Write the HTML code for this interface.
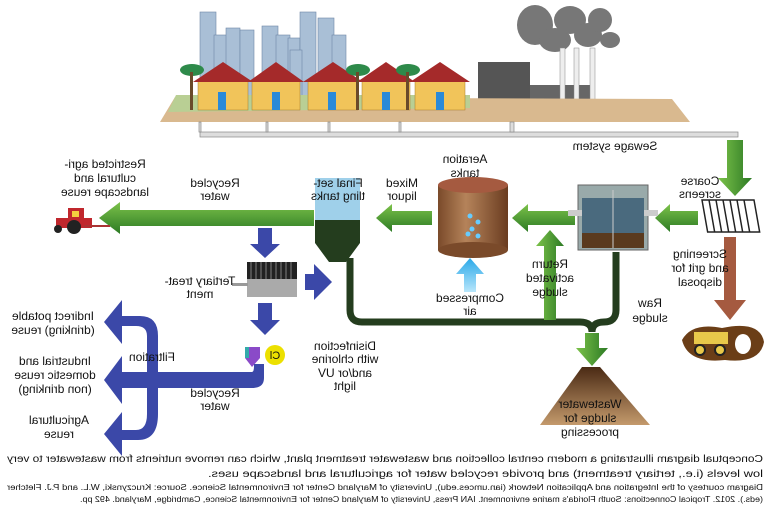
<!DOCTYPE html>
<html><head><meta charset="utf-8"><style>
html,body{margin:0;padding:0;background:#fff;}
svg{display:block;}
text{font-family:"Liberation Sans",sans-serif;fill:#111;}
</style></head><body>
<svg width="768" height="507" viewBox="0 0 768 507" xmlns="http://www.w3.org/2000/svg">
<defs>
<linearGradient id="gg" x1="0" y1="0" x2="0" y2="1"><stop offset="0" stop-color="#7cc24a"/><stop offset="1" stop-color="#2c7a24"/></linearGradient>
<linearGradient id="gv" x1="0" y1="0" x2="1" y2="0"><stop offset="0" stop-color="#7cc24a"/><stop offset="1" stop-color="#2c7a24"/></linearGradient>
<linearGradient id="cyl" x1="0" y1="0" x2="1" y2="0"><stop offset="0" stop-color="#7a4a2a"/><stop offset=".4" stop-color="#b5835a"/><stop offset="1" stop-color="#6a3c20"/></linearGradient>
<linearGradient id="pile" x1="0" y1="0" x2="0" y2="1"><stop offset="0" stop-color="#4a2a14"/><stop offset="1" stop-color="#c49a6c"/></linearGradient>
<linearGradient id="air" x1="0" y1="0" x2="0" y2="1"><stop offset="0" stop-color="#2aa8e8"/><stop offset="1" stop-color="#b8e6fb"/></linearGradient>
</defs>
<!-- smoke -->
<g fill="#777"><ellipse cx="535" cy="25" rx="18" ry="20"/><ellipse cx="555" cy="40" rx="16" ry="12"/><ellipse cx="570" cy="20" rx="16" ry="14"/><ellipse cx="588" cy="35" rx="14" ry="12"/><ellipse cx="600" cy="20" rx="12" ry="12"/><ellipse cx="610" cy="40" rx="10" ry="8"/></g>
<!-- buildings -->
<g fill="#a9bfd6" stroke="#6f88a6" stroke-width="0.6">
<rect x="200" y="12" width="16" height="88"/><rect x="214" y="35" width="14" height="65"/><rect x="226" y="28" width="14" height="72"/><rect x="240" y="30" width="14" height="70"/>
<rect x="262" y="26" width="16" height="74"/><rect x="276" y="35" width="14" height="65"/><rect x="288" y="38" width="12" height="62"/><rect x="300" y="12" width="16" height="88"/>
<rect x="318" y="18" width="16" height="82"/><rect x="332" y="35" width="14" height="65"/><rect x="290" y="50" width="12" height="50"/>
</g>
<!-- factory -->
<rect x="478" y="62" width="52" height="43" fill="#555"/>
<rect x="530" y="85" width="62" height="20" fill="#666"/>
<g fill="#eee" stroke="#888" stroke-width=".5"><rect x="560" y="48" width="5" height="56"/><rect x="574" y="48" width="5" height="56"/><rect x="590" y="48" width="5" height="56"/></g>
<!-- ground -->
<polygon points="175,97 672,99 690,122 160,122" fill="#d9b98f"/>
<polygon points="176,95 470,95 470,108 168,112" fill="#b9cf94"/>
<!-- houses -->
<g fill="#f1c45a" stroke="#a87a2a" stroke-width=".5"><rect x="198" y="80" width="50" height="30"/><rect x="252" y="80" width="48" height="30"/><rect x="308" y="80" width="50" height="30"/><rect x="362" y="80" width="48" height="30"/><rect x="415" y="80" width="50" height="30"/></g>
<g fill="#a52a2a"><polygon points="193,82 223,62 253,82"/><polygon points="248,82 276,62 304,82"/><polygon points="303,82 333,62 363,82"/><polygon points="357,82 386,62 415,82"/><polygon points="410,82 440,62 470,82"/></g>
<g fill="#2a8ad8"><rect x="218" y="92" width="8" height="18"/><rect x="272" y="92" width="8" height="18"/><rect x="328" y="92" width="8" height="18"/><rect x="382" y="92" width="8" height="18"/><rect x="436" y="92" width="8" height="18"/></g>
<g fill="#2e8a4a"><ellipse cx="192" cy="70" rx="12" ry="6"/><ellipse cx="358" cy="70" rx="12" ry="6"/><ellipse cx="408" cy="70" rx="12" ry="6"/></g>
<g fill="#6a4a2a"><rect x="190" y="72" width="3" height="38"/><rect x="356" y="72" width="3" height="38"/><rect x="406" y="72" width="3" height="38"/></g>
<!-- pipes -->
<g fill="#ddd" stroke="#888" stroke-width=".7">
<rect x="200" y="132" width="538" height="5"/>
<rect x="199" y="122" width="2" height="10"/><rect x="266" y="122" width="2" height="10"/><rect x="328" y="122" width="2" height="10"/><rect x="399" y="122" width="2" height="10"/><rect x="510" y="122" width="4" height="10"/>
</g>
<!-- green arrow down from sewage -->
<path d="M727 140 H743 V178 H752 L735 196 L718 178 H727 Z" fill="url(#gv)"/>
<!-- screens -->
<g transform="translate(702,200) skewX(10)"><rect x="0" y="0" width="52" height="32" fill="#fff" stroke="#222" stroke-width="1.5"/><g stroke="#222" stroke-width="1.5"><line x1="7" y1="0" x2="7" y2="32"/><line x1="14" y1="0" x2="14" y2="32"/><line x1="21" y1="0" x2="21" y2="32"/><line x1="28" y1="0" x2="28" y2="32"/><line x1="35" y1="0" x2="35" y2="32"/><line x1="42" y1="0" x2="42" y2="32"/></g></g>
<!-- horizontal green arrows -->
<g fill="url(#gg)">
<path d="M698 211 V225 H670 V232 L655 218 L670 204 V211 Z"/>
<path d="M575 211 V225 H528 V232 L512 218 L528 204 V211 Z"/>
<path d="M432 211 V225 H392 V232 L376 218 L392 204 V211 Z"/>
<path d="M314 210 V226 H120 V234 L99 218 L120 202 V210 Z"/>
</g>
<!-- grit chamber -->
<rect x="578" y="185" width="70" height="65" fill="#9aa" stroke="#666"/>
<rect x="582" y="198" width="62" height="50" fill="#4a6a7e"/>
<rect x="582" y="233" width="62" height="15" fill="#5a3a1e"/>
<line x1="613" y1="190" x2="613" y2="248" stroke="#ccc" stroke-width="1"/>
<rect x="568" y="210" width="14" height="6" fill="#ccc"/><rect x="644" y="210" width="14" height="6" fill="#ccc"/>
<!-- aeration tank -->
<rect x="438" y="185" width="70" height="65" fill="url(#cyl)"/>
<ellipse cx="473" cy="250" rx="35" ry="8" fill="#7a4a2a"/>
<ellipse cx="473" cy="185" rx="35" ry="8" fill="#a55a40"/>
<g fill="#6cf"><circle cx="470" cy="216" r="2.5"/><circle cx="478" cy="222" r="2.5"/><circle cx="472" cy="229" r="2.5"/><circle cx="478" cy="236" r="2.5"/><circle cx="468" cy="234" r="2.5"/></g>
<!-- settling tank -->
<polygon points="315,178 360,178 360,220 315,220" fill="#9fd0ea"/>
<polygon points="315,220 360,220 360,243 346,262 329,262 315,243" fill="#243d1e"/>
<!-- tractor -->
<rect x="68" y="208" width="16" height="14" fill="#c0272d"/><rect x="56" y="218" width="36" height="10" fill="#c0272d"/><rect x="72" y="211" width="7" height="6" fill="#f4d03f"/>
<circle cx="74" cy="227" r="7" fill="#222"/><circle cx="58" cy="229" r="4" fill="#222"/><rect x="84" y="225" width="26" height="2" fill="#a33"/>
<!-- sludge pipes -->
<path d="M350 258 V310 Q350 322 362 322 H580 Q592 322 592 332 M592 332 Q592 322 604 322 Q616 322 616 310 V252" fill="none" stroke="#243d1e" stroke-width="7"/>
<path d="M585 333 H599 V348 H608 L592 366 L576 348 H585 Z" fill="url(#gv)"/>
<path d="M544 320 V246 H536 L550 230 L564 246 H556 V320 Z" fill="url(#gv)"/>
<path d="M464 292 V274 H456 L470 258 L484 274 H476 V292 Z" fill="url(#air)"/>
<!-- brown arrow -->
<path d="M724 237 H736 V300 H746 L730 320 L714 300 H724 Z" fill="#a55a40"/>
<!-- bulldozer blob -->
<path d="M682 340 Q692 322 722 328 Q760 320 764 342 Q760 364 725 360 Q688 364 682 340 Z" fill="#6b3e17"/>
<rect x="694" y="332" width="34" height="12" fill="#e8c84a"/><circle cx="700" cy="350" r="5" fill="#e8c84a" stroke="#222" stroke-width="2"/><circle cx="720" cy="350" r="5" fill="#e8c84a" stroke="#222" stroke-width="2"/>
<ellipse cx="743" cy="344" rx="8" ry="10" fill="#fff"/>
<!-- pile -->
<polygon points="582,367 600,367 650,425 540,425" fill="url(#pile)"/>
<!-- blue arrows -->
<g fill="#3b48a8">
<path d="M258 228 H272 V244 H280 L265 258 L250 244 H258 Z"/>
<path d="M258 303 H272 V320 H280 L265 335 L250 320 H258 Z"/>
<path d="M305 274 H314 V264 L332 282 L314 300 V290 H305 Z"/>
</g>
<rect x="247" y="262" width="50" height="17" fill="#222"/>
<g stroke="#999" stroke-width=".8"><line x1="251" y1="262" x2="251" y2="279"/><line x1="256" y1="262" x2="256" y2="279"/><line x1="261" y1="262" x2="261" y2="279"/><line x1="266" y1="262" x2="266" y2="279"/><line x1="271" y1="262" x2="271" y2="279"/><line x1="276" y1="262" x2="276" y2="279"/><line x1="281" y1="262" x2="281" y2="279"/><line x1="286" y1="262" x2="286" y2="279"/><line x1="291" y1="262" x2="291" y2="279"/></g>
<rect x="247" y="279" width="50" height="18" fill="#aaa"/>
<rect x="232" y="283" width="16" height="3" fill="#999"/>
<!-- Cl icon -->
<path d="M245 347 H260 V358 L252 367 L245 358 Z" fill="#8a4ac8"/><rect x="245" y="347" width="4" height="11" fill="#3aa"/>
<circle cx="275" cy="355" r="10" fill="#ece000"/>
<!-- blue distribution -->
<g fill="#3b48a8">
<path d="M254 364 H264 V378 Q264 388 252 388 H118 V372 H252 Q254 372 254 366 Z"/>
<path d="M118 316 H140 Q158 316 158 336 V414 Q158 440 138 440 H118 V430 H136 Q147 430 147 414 V336 Q147 326 136 326 H118 Z"/>
<path d="M122 309 V300 L104 322 L122 344 V334 Z"/>
<path d="M122 364 V356 L104 380 L122 404 V396 Z"/>
<path d="M122 420 V412 L104 434 L122 456 V448 Z"/>
</g>
<!-- texts (mirrored) -->
<g transform="translate(768,0) scale(-1,1)" font-size="12" text-anchor="middle">
<text x="153" y="150">Sewage system</text>
<text x="303" y="163">Aeration</text><text x="303" y="177">tanks</text>
<text x="68" y="185">Coarse</text><text x="68" y="198">screens</text>
<text x="366" y="187">Mixed</text><text x="366" y="200">liquor</text>
<text x="430" y="187">Final set-</text><text x="430" y="200">tling tanks</text>
<text x="553" y="187">Recycled</text><text x="553" y="200">water</text>
<text x="663" y="168">Restricted agri-</text><text x="663" y="182">cultural and</text><text x="663" y="196">landscape reuse</text>
<text x="68" y="258">Screening</text><text x="68" y="272">and grit for</text><text x="68" y="286">disposal</text>
<text x="568" y="285">Tertiary treat-</text><text x="568" y="298">ment</text>
<text x="298" y="302">Compressed</text><text x="298" y="315">air</text>
<text x="218" y="268">Return</text><text x="218" y="282">activated</text><text x="218" y="296">sludge</text>
<text x="118" y="307">Raw</text><text x="118" y="322">sludge</text>
<text x="715" y="320">Indirect potable</text><text x="715" y="334">(drinking) reuse</text>
<text x="713" y="365">Industrial and</text><text x="713" y="379">domestic reuse</text><text x="713" y="393">(non drinking)</text>
<text x="709" y="424">Agricultural</text><text x="709" y="438">reuse</text>
<text x="616" y="361">Filtration</text>
<text x="553" y="397">Recycled</text><text x="553" y="410">water</text>
<text x="423" y="350">Disinfection</text><text x="423" y="363">with chlorine</text><text x="423" y="377">and/or UV</text><text x="423" y="390">light</text>
<text x="178" y="408">Wastewater</text><text x="178" y="422">sludge for</text><text x="178" y="436">processing</text>
<text x="493" y="359" font-size="11">Cl</text>
<g text-anchor="start">
<text x="5" y="462" font-size="10" textLength="756" lengthAdjust="spacingAndGlyphs">Conceptual diagram illustrating a modern central collection and wastewater treatment plant, which can remove nutrients from wastewater to very</text>
<text x="5" y="477" font-size="10" textLength="555" lengthAdjust="spacingAndGlyphs">low levels (i.e., tertiary treatment) and provide recycled water for agricultural and landscape uses.</text>
<text x="5" y="490" font-size="8" textLength="756" lengthAdjust="spacingAndGlyphs">Diagram courtesy of the Integration and Application Network (ian.umces.edu), University of Maryland Center for Environmental Science. Source: Kruczynski, W.L. and P.J. Fletcher</text>
<text x="5" y="502" font-size="8" textLength="683" lengthAdjust="spacingAndGlyphs">(eds.). 2012. Tropical Connections: South Florida's marine environment. IAN Press, University of Maryland Center for Environmental Science, Cambridge, Maryland. 492 pp.</text>
</g>
</g>
</svg>
</body></html>
